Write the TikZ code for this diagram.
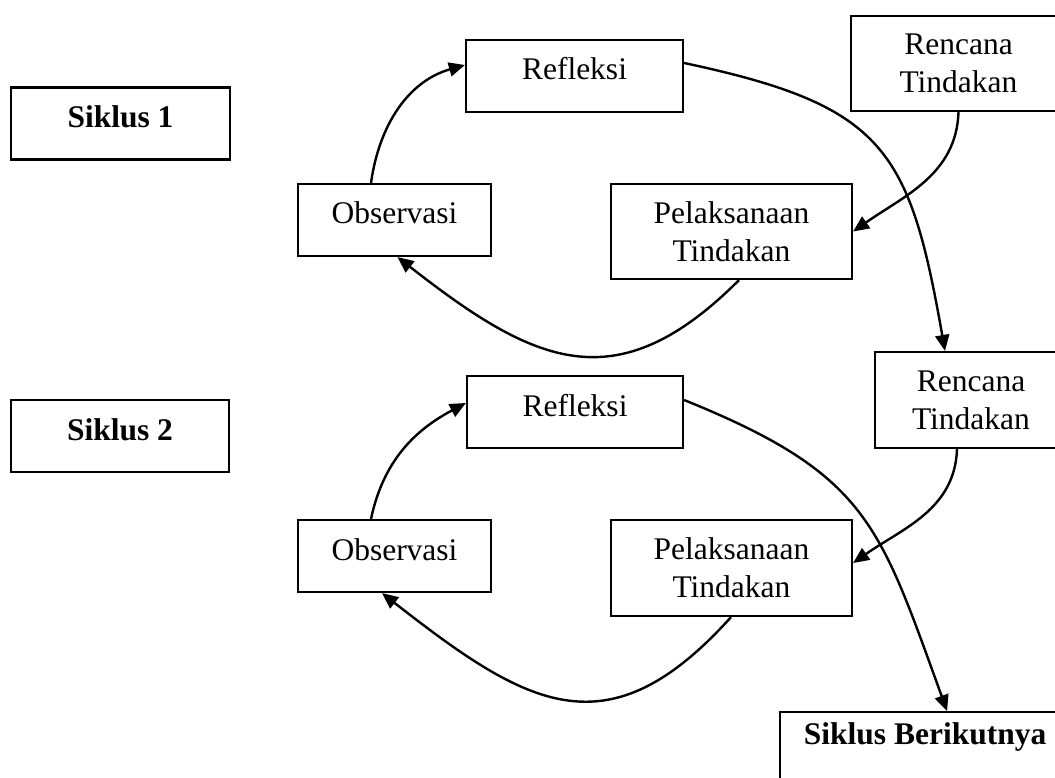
\documentclass[tikz,border=0pt]{standalone}
\usepackage{fontspec}
\setmainfont{Liberation Serif}
\usetikzlibrary{arrows.meta, positioning}

\begin{document}
\begin{tikzpicture}[x=1pt, y=1pt,
        box/.style={draw, line width=2.2pt, align=center, inner sep=0pt, font=\fontsize{31.5}{38}\selectfont},
        single/.style={box, text height=40pt, text depth=32pt},
        title/.style={single, font=\fontsize{31.5}{38}\selectfont\bfseries},
        flow/.style={-{Triangle[length=16pt, width=14pt]}, line width=2.4pt}]
        \useasboundingbox (0,0) rectangle (1055,-778);

        % siklus 1
        \node[title, minimum width=219] (siklus1) at (120.5,-123.5) {Siklus 1};
        \node[single, minimum width=217] (ref1) at (574.5,-76) {Refleksi};
        \node[box, minimum width=215, minimum height=95] (ren1) at (958.5,-63.5) {Rencana\\Tindakan};
        \node[single, minimum width=193] (obs1) at (394.5,-220) {Observasi};
        \node[box, minimum width=241, minimum height=95] (pel1) at (731.5,-231.5) {Pelaksanaan\\Tindakan};

        % siklus 2
        \node[box, minimum width=192, minimum height=96] (ren2) at (971,-400) {Rencana\\Tindakan};
        \node[title, minimum width=218] (siklus2) at (120,-436) {Siklus 2};
        \node[single, minimum width=216] (ref2) at (575,-412) {Refleksi};
        \node[single, minimum width=193] (obs2) at (394.5,-556) {Observasi};
        \node[box, minimum width=241, minimum height=96] (pel2) at (731.5,-568) {Pelaksanaan\\Tindakan};
        \node[title, minimum width=290, text height=32pt, text depth=50pt, anchor=north west] (next) at (779,-711) {Siklus Berikutnya};

        \path[flow]
        ([xshift=-23.5pt]obs1.north) edge[out=82, in=196] ([yshift=11pt]ref1.west)
        ([xshift=7.5pt]pel1.south) edge[out=225, in=-38, looseness=1.3] ([xshift=3pt]obs1.south)
        (ren1.south) edge[out=-92, in=35] (pel1.east)
        ([yshift=13pt]ref1.east) edge[out=-12, in=100, looseness=1.35] ([xshift=-26pt]ren2.north);

        \path[flow]
        ([xshift=-23.5pt]obs2.north) edge[out=78, in=208] ([yshift=9pt]ref2.west)
        ([xshift=-0.5pt]pel2.south) edge[out=228, in=-38, looseness=1.35] ([xshift=-12.5pt]obs2.south)
        ([xshift=-14pt]ren2.south) edge[out=-92, in=35] ([yshift=5pt]pel2.east)
        ([yshift=12pt]ref2.east) edge[out=-22, in=110, looseness=1.25] ([xshift=22pt]next.north);
\end{tikzpicture}
\end{document}
